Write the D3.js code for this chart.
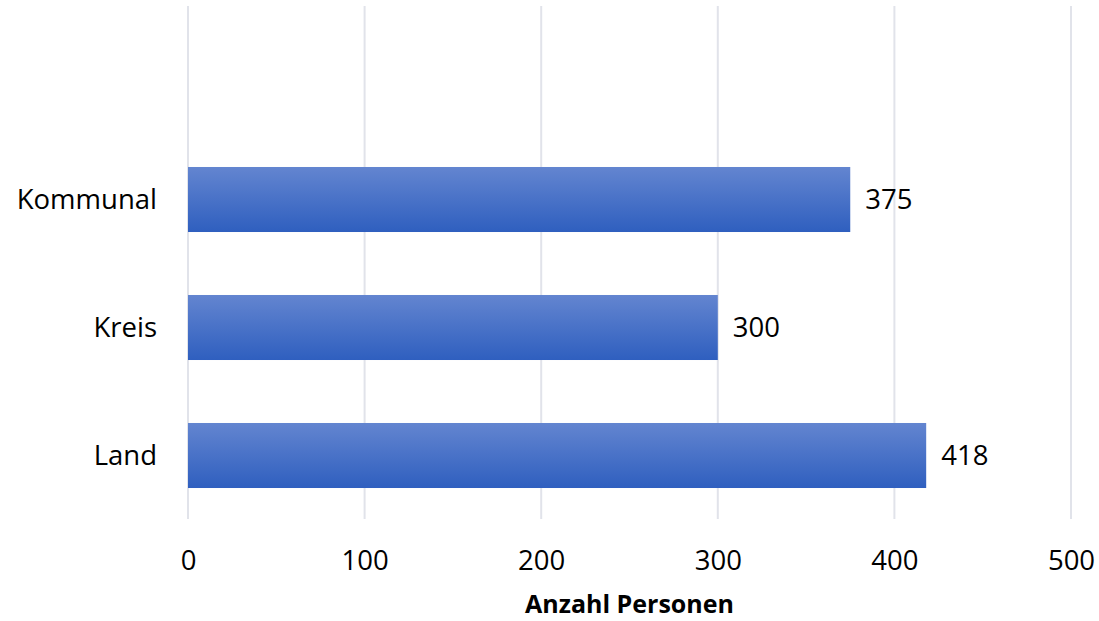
<!DOCTYPE html>
<html>
<head>
<meta charset="utf-8">
<script src="https://cdn.jsdelivr.net/npm/d3@7"></script>
<style>
  body { margin: 0; background: #fff; overflow: hidden; }
  text { font-family: "Open Sans", "Liberation Sans", sans-serif; }
</style>
</head>
<body>
<div id="chart"></div>
<script>
const categories = ["Kommunal", "Kreis", "Land"];
const values = [375, 300, 418];
const xTicks = [0, 100, 200, 300, 400, 500];
const xTitle = "Anzahl Personen";

const width = 1099, height = 621;

const svg = d3.select("#chart").append("svg")
  .attr("width", width).attr("height", height)
  .style("display", "block");

const x = d3.scaleLinear().domain([0, 500]).range([188, 1071]);
const y = d3.scaleBand().domain(categories).range([135.5, 519.5])
  .paddingInner(0.492).paddingOuter(0.246);

// gradient for bars
const grad = svg.append("defs").append("linearGradient")
  .attr("id", "barGrad").attr("x1", 0).attr("y1", 0).attr("x2", 0).attr("y2", 1);
grad.append("stop").attr("offset", "0%").attr("stop-color", "#6385d0");
grad.append("stop").attr("offset", "100%").attr("stop-color", "#2f5fbf");

// gridlines
svg.append("g").selectAll("line").data(xTicks).join("line")
  .attr("x1", d => x(d)).attr("x2", d => x(d))
  .attr("y1", 6).attr("y2", 519)
  .attr("stroke", "#e1e3ea").attr("stroke-width", 2);

// bars
svg.append("g").selectAll("rect").data(categories).join("rect")
  .attr("x", x(0))
  .attr("y", d => y(d))
  .attr("width", (d, i) => x(values[i]) - x(0))
  .attr("height", y.bandwidth())
  .attr("fill", "url(#barGrad)");

// value labels
svg.append("g").selectAll("text").data(categories).join("text")
  .attr("x", (d, i) => x(values[i]) + 15)
  .attr("y", d => y(d) + y.bandwidth() / 2)
  .attr("dy", "0.36em")
  .attr("font-size", 27.5)
  .attr("fill", "#000")
  .text((d, i) => values[i]);

// category labels
svg.append("g").selectAll("text").data(categories).join("text")
  .attr("x", 157)
  .attr("y", d => y(d) + y.bandwidth() / 2)
  .attr("dy", "0.36em")
  .attr("text-anchor", "end")
  .attr("font-size", 27.5)
  .attr("fill", "#000")
  .text(d => d);

// x axis tick labels
const xAxis = svg.append("g")
  .attr("transform", "translate(0,570)")
  .call(d3.axisBottom(x).tickValues(xTicks).tickSize(0).tickPadding(0));
xAxis.select(".domain").remove();
xAxis.selectAll("text")
  .attr("font-size", 27.5)
  .attr("fill", "#000")
  .attr("font-family", "'Open Sans', 'Liberation Sans', sans-serif")
  .attr("dy", "0");

// axis title
svg.append("text")
  .attr("x", (x(0) + x(500)) / 2)
  .attr("y", 613)
  .attr("text-anchor", "middle")
  .attr("font-size", 25)
  .attr("font-weight", "bold")
  .attr("fill", "#000")
  .text(xTitle);
</script>
</body>
</html>
